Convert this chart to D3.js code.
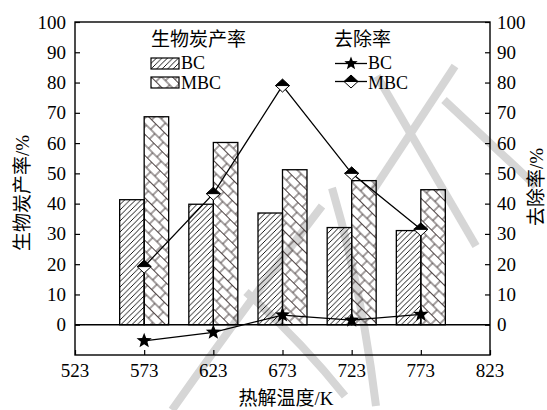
<!DOCTYPE html>
<html>
<head>
<meta charset="utf-8">
<script src="https://cdn.jsdelivr.net/npm/d3@7/dist/d3.min.js"></script>
<style>
  html, body { margin: 0; padding: 0; background: #fff; }
  svg { display: block; }
  .num { font-family: "Liberation Serif", "Times New Roman", "DejaVu Serif", serif; }
  .cjk { font-family: "Noto Sans CJK SC", sans-serif; }
</style>
</head>
<body>
<svg id="chart" width="547" height="410"></svg>
<script>
// Pyrolysis temperatures (K)
const temps = [573, 623, 673, 723, 773];
// Biochar yield (%)
const yieldBC  = [41.3, 39.8, 36.9, 32.1, 31.1];
const yieldMBC = [68.7, 60.2, 51.2, 47.6, 44.6];
// Removal rate (%)
const removalBC  = [-5.3, -2.5, 3.2, 1.5, 3.4];
const removalMBC = [19.2, 43.3, 79.0, 50.0, 31.5];
// Axis ticks
const xTicks = [523, 573, 623, 673, 723, 773, 823];
const yTicks = [0, 10, 20, 30, 40, 50, 60, 70, 80, 90, 100];

const svg = d3.select("#chart");
const plotL = 75, plotR = 490, plotT = 22, plotB = 355;

const x = d3.scaleLinear().domain([523, 823]).range([plotL, plotR]);
const y = d3.scaleLinear().domain([-10, 100]).range([plotB, plotT]);
const barW = 24.5;

// ---- fill patterns ----
const defs = svg.append("defs");
const pBC = defs.append("pattern").attr("id", "hatchBC")
  .attr("patternUnits", "userSpaceOnUse").attr("width", 5.5).attr("height", 5.5);
pBC.append("path").attr("d", "M-1,1 L1,-1 M0,5.5 L5.5,0 M4.5,6.5 L6.5,4.5")
  .attr("stroke", "#000").attr("stroke-width", 0.9);

const cell = 7.5, brick = 12;
const pMBC = defs.append("pattern").attr("id", "hatchMBC")
  .attr("patternUnits", "userSpaceOnUse").attr("width", brick).attr("height", 2 * cell)
  .attr("patternTransform", "rotate(45)");
pMBC.append("path")
  .attr("d", `M0,0 H${brick} M0,${cell} H${brick} M0,${2*cell} H${brick} M0,0 V${cell} M${brick},0 V${cell} M${brick/2},${cell} V${2*cell}`)
  .attr("stroke", "#3a2e2e").attr("stroke-width", 0.9).attr("fill", "none");

// ---- background watermark strokes ----
const wm = svg.append("g").attr("fill", "none").attr("stroke", "#d6d6d6")
  .attr("stroke-width", 8).attr("stroke-linecap", "butt");
const wmPaths = [
  "M455,66 L372,192",
  "M377,76 Q420,150 476,246",
  "M444,100 L536,186",
  "M322,206 Q250,300 172,410",
  "M246,292 Q300,340 345,396",
  "M332,188 Q362,290 376,406"
];
wm.selectAll("path").data(wmPaths).join("path").attr("d", d => d);

// ---- bars ----
const bars = svg.append("g");
bars.selectAll("rect.bc").data(temps).join("rect")
  .attr("x", (d) => x(d) - barW).attr("y", (d, i) => y(yieldBC[i]))
  .attr("width", barW).attr("height", (d, i) => y(0) - y(yieldBC[i]))
  .attr("fill", "url(#hatchBC)").attr("stroke", "#000").attr("stroke-width", 1.3);
bars.selectAll("rect.mbc").data(temps).join("rect")
  .attr("x", (d) => x(d)).attr("y", (d, i) => y(yieldMBC[i]))
  .attr("width", barW).attr("height", (d, i) => y(0) - y(yieldMBC[i]))
  .attr("fill", "url(#hatchMBC)").attr("stroke", "#000").attr("stroke-width", 1.3);

// zero line
svg.append("line").attr("x1", plotL).attr("x2", plotR).attr("y1", y(0)).attr("y2", y(0))
  .attr("stroke", "#000").attr("stroke-width", 1.3);

// ---- axes frame ----
svg.append("rect").attr("x", plotL).attr("y", plotT).attr("width", plotR - plotL).attr("height", plotB - plotT)
  .attr("fill", "none").attr("stroke", "#000").attr("stroke-width", 1.4);

const fs = 19;
const axL = svg.append("g").attr("transform", `translate(${plotL},0)`)
  .call(d3.axisRight(y).tickValues(yTicks).tickSize(5).tickFormat(""));
const axR = svg.append("g").attr("transform", `translate(${plotR},0)`)
  .call(d3.axisLeft(y).tickValues(yTicks).tickSize(5).tickFormat(""));
const axB = svg.append("g").attr("transform", `translate(0,${plotB})`)
  .call(d3.axisTop(x).tickValues(xTicks).tickSize(5).tickFormat(""));
[axL, axR, axB].forEach(g => {
  g.select(".domain").remove();
  g.selectAll(".tick line").attr("stroke", "#000").attr("stroke-width", 1.2);
});

const num = svg.append("g").attr("font-size", fs).attr("fill", "#000");
num.append("g").selectAll("text").data(yTicks).join("text").attr("class", "num")
  .attr("x", 66).attr("y", d => y(d) + 6.5).attr("text-anchor", "end").text(d => d);
num.append("g").selectAll("text").data(yTicks).join("text").attr("class", "num")
  .attr("x", 497).attr("y", d => y(d) + 6.5).attr("text-anchor", "start").text(d => d);
num.append("g").selectAll("text").data(xTicks).join("text").attr("class", "num")
  .attr("x", d => x(d)).attr("y", 377).attr("text-anchor", "middle").text(d => d);

// axis titles: CJK part plus serif unit
function mixedText(g, cjkPart, tail) {
  const t = g.append("text").attr("font-size", fs).attr("fill", "#000");
  t.append("tspan").attr("class", "cjk").text(cjkPart);
  t.append("tspan").attr("class", "num").text(tail);
  return t;
}
mixedText(svg, "热解温度", "/K").attr("x", 286).attr("y", 405).attr("text-anchor", "middle");
mixedText(svg, "生物炭产率", "/%").attr("transform", "translate(29,193) rotate(-90)").attr("text-anchor", "middle");
mixedText(svg, "去除率", "/%").attr("transform", "translate(543,187) rotate(-90)").attr("text-anchor", "middle");

// ---- markers ----
function starPath(R, r) {
  const pts = [];
  for (let k = 0; k < 10; k++) {
    const a = -Math.PI / 2 + k * Math.PI / 5;
    const rr = k % 2 === 0 ? R : r;
    pts.push([rr * Math.cos(a), rr * Math.sin(a)]);
  }
  return "M" + pts.map(p => p.join(",")).join("L") + "Z";
}
function drawDiamond(g, cx, cy) {
  const w = 7, h = 6.5;
  g.append("path").attr("d", `M${cx - w},${cy} L${cx},${cy - h} L${cx + w},${cy} Z`)
    .attr("fill", "#000").attr("stroke", "#000").attr("stroke-width", 1);
  g.append("path").attr("d", `M${cx - w},${cy} L${cx},${cy + h} L${cx + w},${cy} Z`)
    .attr("fill", "#fff").attr("stroke", "#000").attr("stroke-width", 1);
}

const line = d3.line().x(d => x(d[0])).y(d => y(d[1]));
const lines = svg.append("g");
lines.append("path").datum(temps.map((t, i) => [t, removalBC[i]]))
  .attr("d", line).attr("fill", "none").attr("stroke", "#000").attr("stroke-width", 1.3);
lines.append("path").datum(temps.map((t, i) => [t, removalMBC[i]]))
  .attr("d", line).attr("fill", "none").attr("stroke", "#000").attr("stroke-width", 1.3);

lines.selectAll("path.star").data(temps).join("path")
  .attr("transform", (d, i) => `translate(${x(d)},${y(removalBC[i])})`)
  .attr("d", starPath(8, 3.4)).attr("fill", "#000");
temps.forEach((t, i) => drawDiamond(lines, x(t), y(removalMBC[i])));

// ---- legend ----
const lfs = 18;
const lg = svg.append("g").attr("fill", "#000");
lg.append("text").attr("class", "cjk").attr("font-size", fs).attr("x", 151).attr("y", 46).text("生物炭产率");
lg.append("rect").attr("x", 151).attr("y", 58).attr("width", 28).attr("height", 11)
  .attr("fill", "url(#hatchBC)").attr("stroke", "#000").attr("stroke-width", 1.2);
lg.append("rect").attr("x", 151).attr("y", 77).attr("width", 28).attr("height", 11)
  .attr("fill", "url(#hatchMBC)").attr("stroke", "#000").attr("stroke-width", 1.2);
lg.append("text").attr("class", "num").attr("font-size", lfs).attr("x", 181).attr("y", 69).text("BC");
lg.append("text").attr("class", "num").attr("font-size", lfs).attr("x", 181).attr("y", 89).text("MBC");

lg.append("text").attr("class", "cjk").attr("font-size", fs).attr("x", 334).attr("y", 46).text("去除率");
lg.append("line").attr("x1", 335).attr("x2", 367).attr("y1", 63.5).attr("y2", 63.5)
  .attr("stroke", "#000").attr("stroke-width", 1.3);
lg.append("path").attr("transform", "translate(351,63.5)").attr("d", starPath(7, 3)).attr("fill", "#000");
lg.append("line").attr("x1", 335).attr("x2", 367).attr("y1", 81.5).attr("y2", 81.5)
  .attr("stroke", "#000").attr("stroke-width", 1.3);
drawDiamond(lg, 351, 81.5);
lg.append("text").attr("class", "num").attr("font-size", lfs).attr("x", 368).attr("y", 69).text("BC");
lg.append("text").attr("class", "num").attr("font-size", lfs).attr("x", 368).attr("y", 89).text("MBC");
</script>
</body>
</html>
